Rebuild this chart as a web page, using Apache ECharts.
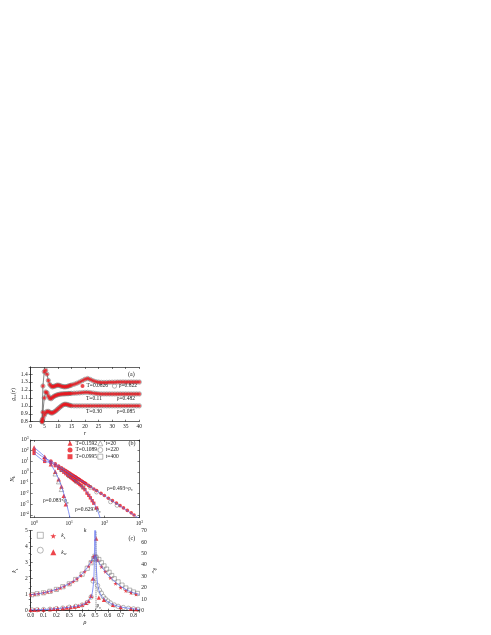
<!DOCTYPE html>
<html><head><meta charset="utf-8">
<script src="https://cdn.jsdelivr.net/npm/echarts/dist/echarts.min.js"></script>
<style>html,body{margin:0;padding:0;background:#fff}#c{width:491px;height:635px}</style>
</head><body><div id="c"></div><script>
// ---------- panel (a): g_cc(r) ----------
const rA = [4.2,4.5,5,5.5,6,6.5,7,7.5,8,8.5,9,9.5,10,10.5,11,11.5,12,12.5,13,13.5,14,14.5,15,16,17,18,19,20,21,22,23,24,25,26,27,28,29,30,31,32,33,34,35,36,37,38,39,40];
const gTop = [0.82,1.25,1.43,1.45,1.40,1.32,1.27,1.25,1.24,1.245,1.25,1.258,1.262,1.258,1.252,1.246,1.242,1.24,1.241,1.245,1.25,1.256,1.262,1.272,1.285,1.30,1.318,1.335,1.345,1.332,1.316,1.305,1.299,1.296,1.295,1.296,1.297,1.298,1.299,1.30,1.30,1.301,1.30,1.30,1.301,1.30,1.30,1.30];
const gMid = [0.80,0.92,1.10,1.175,1.165,1.125,1.095,1.09,1.105,1.118,1.128,1.135,1.14,1.145,1.148,1.15,1.151,1.152,1.153,1.154,1.155,1.156,1.157,1.159,1.161,1.164,1.167,1.17,1.17,1.166,1.161,1.156,1.152,1.15,1.15,1.15,1.15,1.15,1.15,1.15,1.15,1.15,1.15,1.15,1.15,1.15,1.15,1.15];
const gBot = [0.80,0.84,0.88,0.91,0.93,0.93,0.92,0.91,0.91,0.92,0.93,0.945,0.96,0.975,0.99,1.003,1.015,1.02,1.02,1.016,1.01,1.006,1.002,1.0,1.0,1.0,1.0,1.0,1.0,1.0,1.0,1.0,1.0,1.0,1.0,1.0,1.0,1.0,1.0,1.0,1.0,1.0,1.0,1.0,1.0,1.0,1.0,1.0];

// ---------- panel (b): N_k vs k ----------
const kTri = [1,2,3,4,5,6,7,8];
const nTri = [200,28,5.6,1.1,0.22,0.045,0.0063,0.001];
const kTriOpen = [4,5,6];
const nTriOpen = [0.7,0.13,0.025];
const kCir = [1,2,3,4,5,6,7,8,9,10,11,12,13,14,15,16,17,18,19,20,22,24,26,28,30,35,40,50,60,80,100,130,170,220,280,350,450,580,700];
const nCir = [100,20,11,6.0,3.8,2.5,1.8,1.4,1.05,0.85,0.70,0.58,0.49,0.41,0.36,0.31,0.27,0.24,0.22,0.19,0.16,0.13,0.11,0.094,0.081,0.058,0.044,0.027,0.019,0.0105,0.0066,0.0037,0.0022,0.0013,0.00075,0.00046,0.00027,0.00016,0.0001];
const kCirOpen = [40,60,150,230];
const nCirOpen = [0.036,0.014,0.0017,0.0008];
const kSq = [1,2,3,4,5,6,7,8,9,10,11,12,13,14,15,16,18,20,22,25,28,32,36,40,45,50,60];
const nSq = [56,10,7.9,4.0,2.3,1.45,0.98,0.71,0.52,0.40,0.32,0.26,0.21,0.17,0.15,0.126,0.093,0.071,0.054,0.035,0.023,0.011,0.0068,0.004,0.0022,0.00126,0.00045];
const kSqOpen = [6,10,16,25];
const nSqOpen = [1.7,0.45,0.14,0.04];
const kFitA = [1,2,3,4,5,6,7,8,9,10,11];
const nFitA = [200,28,5.2,1.05,0.22,0.048,0.01,0.002,0.00045,0.00011,0.00003];
const kFitB = [1,2,3,5,10,20,30,40,50,60,70,80];
const nFitB = [56,10,7.9,2.3,0.4,0.071,0.018,0.0042,0.0013,0.00045,0.00012,0.00003];
const kFitC = [1,2,3,10,100,1000];
const nFitC = [100,20,11,0.85,0.0062,0.000045];

// ---------- panel (c): k_s, k_w vs rho ----------
const rhoStar = [0.0,0.03,0.06,0.1,0.13,0.16,0.2,0.23,0.26,0.3,0.33,0.36,0.39,0.42,0.45,0.47,0.49,0.5,0.52,0.55,0.58,0.62,0.66,0.7,0.74,0.78,0.82];
const ksStar = [1.0,1.03,1.07,1.12,1.17,1.23,1.33,1.42,1.52,1.68,1.82,2.0,2.2,2.45,2.78,3.05,3.35,3.45,3.15,2.75,2.45,2.05,1.7,1.45,1.25,1.12,1.02];
const rhoSqOpen = [0.01,0.05,0.1,0.15,0.2,0.25,0.3,0.35,0.4,0.44,0.47,0.49,0.5,0.51,0.53,0.55,0.57,0.59,0.61,0.63,0.65,0.68,0.71,0.74,0.77,0.8,0.83];
const ksSqOpen = [1.0,1.06,1.12,1.21,1.33,1.5,1.68,1.95,2.28,2.65,3.0,3.25,3.4,3.3,3.2,3.0,2.8,2.6,2.4,2.2,2.0,1.8,1.6,1.42,1.28,1.17,1.08];
const rhoTri = [0.0,0.03,0.06,0.1,0.15,0.18,0.21,0.25,0.28,0.31,0.34,0.37,0.4,0.43,0.45,0.47,0.485,0.51,0.53,0.57,0.64,0.7,0.78,0.82];
const kwTri = [0.7,0.8,0.9,1.0,1.3,1.6,2.0,2.3,2.7,3.1,3.6,4.3,5.2,6.8,8.5,13,28,63,11.5,9.5,5,3,1.8,1.3];
const rhoCirOpen = [0.01,0.05,0.1,0.15,0.2,0.25,0.3,0.35,0.4,0.44,0.47,0.485,0.5,0.52,0.535,0.55,0.565,0.58,0.6,0.62,0.65,0.68,0.72,0.76,0.8,0.835];
const kwCirOpen = [0.7,0.85,1.0,1.3,1.8,2.3,3.0,3.8,5.0,7.2,12,26,45,22,18,15.4,12.4,10.5,8.5,6.8,5.0,3.8,2.8,2.1,1.6,1.2];
const rhoFitS = [0,0.05,0.1,0.15,0.2,0.25,0.3,0.35,0.4,0.43,0.46,0.48,0.495,0.5,0.505,0.52,0.54,0.57,0.6,0.64,0.68,0.72,0.76,0.8,0.845];
const ksFit = [1.0,1.05,1.12,1.22,1.34,1.5,1.7,1.95,2.3,2.58,2.95,3.22,3.4,3.42,3.38,3.15,2.9,2.55,2.25,1.93,1.65,1.42,1.25,1.12,1.02];
const rhoFitWL = [0,0.1,0.2,0.3,0.35,0.4,0.43,0.45,0.47,0.48,0.49,0.495,0.498,0.5];
const kwFitL = [0.7,1.0,1.8,3.0,3.8,5.1,6.7,8.5,12,16,26,42,70,120];
const rhoFitWR = [0.502,0.505,0.51,0.515,0.52,0.53,0.55,0.58,0.6,0.65,0.7,0.75,0.8,0.845];
const kwFitR = [120,70,40,30,24,18,13,9.5,7.8,5,3.3,2.3,1.6,1.1];
const rhoC = [0.497,0.507];

// ---------- styling ----------
const FF = 'Liberation Serif';
const FS = 5.5;
const INK = '#1a1a1a';
const RED = '#e8161e';
const GRAY = '#6a6a6a';
const BLUE = '#5468f2';
const zip = (a,b) => a.map((v,i)=>[v,b[i]]);
const sub = {fontSize:4, lineHeight:4, verticalAlign:'bottom', fontFamily:FF, color:INK};
const sup = {fontSize:3.8, lineHeight:4, verticalAlign:'top', fontFamily:FF, color:INK};
const it = {fontSize:6, lineHeight:8, fontStyle:'italic', fontFamily:FF, color:INK};
const nm = {fontSize:6, lineHeight:8, fontFamily:FF, color:INK};
const b10 = {fontSize:FS, lineHeight:8, fontFamily:FF, color:INK};
const labelBase = {fontFamily:FF, fontSize:FS, color:INK};
const lineAx = {show:true, lineStyle:{color:'#222', width:0.7}};
const tickIn = {show:true, inside:true, length:2, lineStyle:{color:'#222', width:0.6}};
const pow10 = v => { const e = Math.round(Math.log10(v)); return '{b|10}{e|' + e + '}'; };

function frameX(grid, type, min, max, interval){
  const o = {type, gridIndex:grid, position:'top', min, max, axisLine:lineAx, axisTick:tickIn, axisLabel:{show:false}, splitLine:{show:false}};
  if (interval) o.interval = interval;
  return o;
}
function frameY(grid, type, min, max, interval){
  const o = {type, gridIndex:grid, position:'right', min, max, axisLine:lineAx, axisTick:tickIn, axisLabel:{show:false}, splitLine:{show:false}};
  if (interval) o.interval = interval;
  return o;
}

const xAxis = [
  {type:'value', gridIndex:0, min:0, max:40, interval:5, axisLine:lineAx, axisTick:tickIn, splitLine:{show:false},
   axisLabel:{...labelBase, margin:2}, name:'{i|r}', nameLocation:'middle', nameGap:8, nameTextStyle:{rich:{i:it}}},
  frameX(0,'value',0,40,5),
  {type:'log', gridIndex:1, min:0.8, max:1000, axisLine:lineAx, axisTick:tickIn, splitLine:{show:false},
   axisLabel:{...labelBase, margin:2, showMinLabel:false, formatter:pow10, rich:{b:b10, e:sup}},
   name:'{i|k}', nameLocation:'middle', nameGap:6, nameTextStyle:{rich:{i:it}}},
  frameX(1,'log',0.8,1000),
  {type:'value', gridIndex:2, min:0, max:0.845, interval:0.1, axisLine:lineAx, axisTick:tickIn, splitLine:{show:false},
   minorTick:{show:true, splitNumber:2, length:1.2, lineStyle:{color:'#222', width:0.5}},
   axisLabel:{...labelBase, margin:2, showMaxLabel:false, formatter:v=>v.toFixed(1)},
   name:'{i|ρ}', nameLocation:'middle', nameGap:6, nameTextStyle:{rich:{i:it}}},
  frameX(2,'value',0,0.845,0.1)
];
const yAxis = [
  {type:'value', gridIndex:0, min:0.8, max:1.49, interval:0.1, axisLine:lineAx, axisTick:tickIn, splitLine:{show:false},
   axisLabel:{...labelBase, margin:3, showMaxLabel:false, formatter:v=>v.toFixed(1)},
   name:'{i|g}{s|cc}{n|(}{i|r}{n|)}', nameLocation:'middle', nameGap:12, nameTextStyle:{rich:{i:it, s:sub, n:nm}}},
  frameY(0,'value',0.8,1.49,0.1),
  {type:'log', gridIndex:1, min:Math.pow(10,-4.25), max:1000, axisLine:lineAx, axisTick:tickIn, splitLine:{show:false},
   axisLabel:{...labelBase, margin:2, showMinLabel:false, formatter:pow10, rich:{b:b10, e:sup}},
   name:'{i|N}{s|k}', nameLocation:'middle', nameGap:14, nameTextStyle:{rich:{i:it, s:sub}}},
  frameY(1,'log',Math.pow(10,-4.25),1000),
  {type:'value', gridIndex:2, min:0, max:5, interval:1, axisLine:lineAx, axisTick:tickIn, splitLine:{show:false},
   minorTick:{show:true, splitNumber:2, length:1.2, lineStyle:{color:'#222', width:0.5}},
   axisLabel:{...labelBase, margin:3},
   name:'{i|k}{s|s}', nameLocation:'middle', nameGap:12, nameTextStyle:{rich:{i:it, s:sub}}},
  {type:'value', gridIndex:2, position:'right', min:0, max:70, interval:10, axisLine:lineAx, axisTick:tickIn, splitLine:{show:false},
   minorTick:{show:true, splitNumber:2, length:1.2, lineStyle:{color:'#222', width:0.5}},
   axisLabel:{...labelBase, margin:2},
   name:'{i|k}{s|w}', nameLocation:'middle', nameGap:11, nameRotate:-90, nameTextStyle:{rich:{i:it, s:sub}}}
];

const openStyle = {color:'rgba(255,255,255,0)', borderColor:GRAY, borderWidth:0.6};
const series = [];
// (a)
[[gTop,'T=0.0826','ρ=0.822'],[gMid,'T=0.11','ρ=0.482'],[gBot,'T=0.30','ρ=0.085']].forEach(([g,tn,rn])=>{
  const d = zip(rA,g);
  series.push({type:'line', name:'line '+tn, xAxisIndex:0, yAxisIndex:0, data:d, symbol:'none', lineStyle:{color:'#333', width:0.6}, z:2, silent:true});
  series.push({type:'scatter', name:rn, xAxisIndex:0, yAxisIndex:0, data:d, symbol:'circle', symbolSize:4.4, itemStyle:openStyle, z:3});
  series.push({type:'scatter', name:tn, xAxisIndex:0, yAxisIndex:0, data:d, symbol:'circle', symbolSize:3.4, itemStyle:{color:RED}, z:4});
});
// (b)
series.push({type:'scatter', name:'T=0.1592', xAxisIndex:2, yAxisIndex:2, data:zip(kTri,nTri), symbol:'triangle', symbolSize:4.5, itemStyle:{color:RED}, z:4});
series.push({type:'scatter', name:'T=0.1089', xAxisIndex:2, yAxisIndex:2, data:zip(kCir,nCir), symbol:'circle', symbolSize:3.6, itemStyle:{color:RED}, z:4});
series.push({type:'scatter', name:'T=0.0995', xAxisIndex:2, yAxisIndex:2, data:zip(kSq,nSq), symbol:'rect', symbolSize:3.3, itemStyle:{color:RED}, z:4});
series.push({type:'scatter', name:'t=20', xAxisIndex:2, yAxisIndex:2, data:zip(kTriOpen,nTriOpen), symbol:'triangle', symbolSize:4.5, itemStyle:openStyle, z:5});
series.push({type:'scatter', name:'t=220', xAxisIndex:2, yAxisIndex:2, data:zip(kCirOpen,nCirOpen), symbol:'circle', symbolSize:4, itemStyle:openStyle, z:5});
series.push({type:'scatter', name:'t=400', xAxisIndex:2, yAxisIndex:2, data:zip(kSqOpen,nSqOpen), symbol:'rect', symbolSize:3.6, itemStyle:openStyle, z:5});
[[kFitA,nFitA],[kFitB,nFitB],[kFitC,nFitC]].forEach(([k,n],i)=>{
  series.push({type:'line', name:'fit b'+i, xAxisIndex:2, yAxisIndex:2, data:zip(k,n), symbol:'none', smooth:0.3, lineStyle:{color:BLUE, width:0.7}, z:6, silent:true});
});
// (c)
series.push({type:'scatter', name:'ksOpen', xAxisIndex:4, yAxisIndex:4, data:zip(rhoSqOpen,ksSqOpen), symbol:'rect', symbolSize:4.2, itemStyle:openStyle, z:3});
series.push({type:'scatter', name:'kwOpen', xAxisIndex:4, yAxisIndex:5, data:zip(rhoCirOpen,kwCirOpen), symbol:'circle', symbolSize:4.4, itemStyle:openStyle, z:3});
series.push({type:'scatter', name:'ks', xAxisIndex:4, yAxisIndex:4, data:zip(rhoStar,ksStar),
  symbol:'path://M50,0 L61,35 L98,35 L68,57 L79,91 L50,70 L21,91 L32,57 L2,35 L39,35 Z', symbolSize:4.4, itemStyle:{color:RED}, z:4});
series.push({type:'scatter', name:'kw', xAxisIndex:4, yAxisIndex:5, data:zip(rhoTri,kwTri), symbol:'triangle', symbolSize:4.2, itemStyle:{color:RED}, z:4});
series.push({type:'line', name:'fit ks', xAxisIndex:4, yAxisIndex:4, data:zip(rhoFitS,ksFit), symbol:'none', smooth:0.3, lineStyle:{color:BLUE, width:0.7}, z:6, silent:true,
  markLine:{silent:true, symbol:'none', label:{show:false}, lineStyle:{color:'#888', type:[1,1], width:0.6},
    data: rhoC.map(v=>({xAxis:v}))}});
series.push({type:'line', name:'fit kw L', xAxisIndex:4, yAxisIndex:5, data:zip(rhoFitWL,kwFitL), symbol:'none', smooth:0.3, lineStyle:{color:BLUE, width:0.7}, z:6, silent:true});
series.push({type:'line', name:'fit kw R', xAxisIndex:4, yAxisIndex:5, data:zip(rhoFitWR,kwFitR), symbol:'none', smooth:0.3, lineStyle:{color:BLUE, width:0.7}, z:6, silent:true});

const lgText = {fontFamily:FF, fontSize:FS, color:INK, lineHeight:6};
const lgItem = {borderWidth:0.6};
const legend = [
  {data:['T=0.0826'], left:80.5, top:383, padding:0, itemWidth:4, itemHeight:4, selectedMode:false, itemStyle:lgItem, textStyle:{...lgText, padding:[0,0,0,-3]}},
  {data:['ρ=0.822'], left:112, top:383, padding:0, itemWidth:4.4, itemHeight:4.4, selectedMode:false, itemStyle:lgItem, textStyle:{...lgText, padding:[0,0,0,-3]}},
  {data:['T=0.1592','T=0.1089','T=0.0995'], orient:'vertical', left:67.5, top:440.3, padding:0, itemGap:0.7, itemWidth:5, itemHeight:5, selectedMode:false, itemStyle:lgItem, textStyle:{...lgText, padding:[0,0,0,-2]}},
  {data:['t=20','t=220','t=400'], orient:'vertical', left:97.5, top:440.3, padding:0, itemGap:0.7, itemWidth:5, itemHeight:5, selectedMode:false, itemStyle:lgItem, textStyle:{...lgText, padding:[0,0,0,-2]}},
  {data:['ksOpen','kwOpen'], orient:'vertical', left:37, top:532, padding:0, itemGap:8.3, itemWidth:6, itemHeight:6, selectedMode:false, itemStyle:lgItem, formatter:()=>'', textStyle:lgText},
  {data:['ks','kw'], orient:'vertical', left:50.3, top:532, padding:0, itemGap:8.3, itemWidth:6, itemHeight:6, selectedMode:false, itemStyle:lgItem,
   formatter:n=> n==='ks' ? '{i|k}{s|s}' : '{i|k}{s|w}', textStyle:{...lgText, rich:{i:{...it, fontSize:5.5}, s:sub}}}
];

const txt = (x,y,text,extra) => ({type:'text', x, y, silent:true,
  style:Object.assign({text, fontFamily:FF, fontSize:FS, fill:INK, align:'left', verticalAlign:'middle'}, extra||{})});
const richC = {rich:{n:{fontFamily:FF, fontSize:FS, fill:INK, lineHeight:8}, s:{fontFamily:FF, fontSize:4, fill:INK, lineHeight:4, verticalAlign:'bottom'}}};
const graphic = [
  txt(128,374,'(a)',{fontSize:6}),
  txt(86,398.7,'T=0.11'), txt(116.7,398.7,'ρ=0.482'),
  txt(86,411.7,'T=0.30'), txt(116.7,411.7,'ρ=0.085'),
  txt(128.5,443.5,'(b)',{fontSize:6}),
  txt(107,488.3,'{n|ρ=0.493~ρ}{s|c}',richC),
  txt(43,501,'{n|ρ=0.083<ρ}{s|c}',richC),
  txt(75,510,'{n|ρ=0.629>ρ}{s|c}',richC),
  txt(128.5,538,'(c)',{fontSize:6}),
  txt(96.5,606,'{n|ρ}{s|c}',richC)
];

const chart = echarts.init(document.getElementById('c'), null, {renderer:'canvas'});
chart.setOption({
  animation:false,
  backgroundColor:'#fff',
  grid:[
    {left:30.7, top:367, width:108.6, height:54.7},
    {left:30.7, top:440, width:108.8, height:77.7},
    {left:30.7, top:530.7, width:108.6, height:80}
  ],
  xAxis, yAxis, series, legend, graphic
});
</script></body></html>
